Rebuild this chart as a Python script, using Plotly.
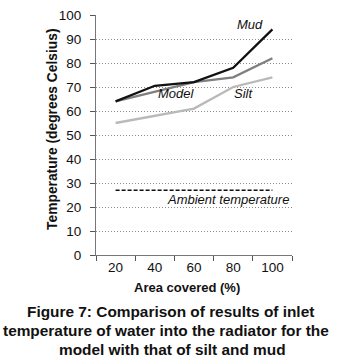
import plotly.graph_objects as go

area = ["20", "40", "60", "80", "100"]
mud = [64, 70.5, 72, 78, 94]
model = [64, 68, 72, 74, 82]
silt = [55, 58, 61, 70, 74]
ambient = [27, 27, 27, 27, 27]
y_ticks = [0, 10, 20, 30, 40, 50, 60, 70, 80, 90, 100]

FONT = "Liberation Sans, Arial, sans-serif"

fig = go.Figure()
fig.add_trace(go.Scatter(x=area, y=ambient, mode="lines",
                         line=dict(color="#111111", width=1.5, dash="4px,2px")))
fig.add_trace(go.Scatter(x=area, y=silt, mode="lines",
                         line=dict(color="#b9b9b9", width=2.3)))
fig.add_trace(go.Scatter(x=area, y=model, mode="lines",
                         line=dict(color="#7f7f7f", width=2.3)))
fig.add_trace(go.Scatter(x=area, y=mud, mode="lines",
                         line=dict(color="#111111", width=2.3)))

lab_font = dict(family=FONT, size=13, color="#111111", style="italic")
fig.add_annotation(x=3.43, y=96.0, text="Mud", showarrow=False, font=lab_font)
fig.add_annotation(x=1.56, y=67.3, text="Model", showarrow=False, font=lab_font)
fig.add_annotation(x=3.25, y=67.5, text="Silt", showarrow=False, font=lab_font)
fig.add_annotation(x=2.86, y=23.3, text="Ambient temperature", showarrow=False, font=lab_font)

cap_font = dict(family=FONT, size=15.4, color="#111111", weight="bold")
caption = ["Figure 7: Comparison of results of inlet",
           "temperature of water into the radiator for the",
           "model with that of silt and mud"]
cap_x = [170, 166, 172]
for i, line in enumerate(caption):
    fig.add_annotation(xref="paper", yref="paper", x=(cap_x[i] - 96) / 196,
                       y=-(312.5 + 19.3 * i - 254.5) / 246.5,
                       text=line, showarrow=False, font=cap_font, xanchor="center", yanchor="middle")

fig.add_annotation(xref="paper", yref="paper", x=(186.5 - 96) / 196, y=-(287.5 - 254.5) / 246.5,
                   text="Area covered (%)", showarrow=False,
                   font=dict(family=FONT, size=13, color="#111111", weight="bold"),
                   xanchor="center", yanchor="middle")
fig.add_annotation(xref="paper", yref="paper", x=-(96 - 53) / 196, y=(254.5 - 126) / 246.5,
                   text="Temperature (degrees Celsius)", showarrow=False, textangle=-90,
                   font=dict(family=FONT, size=13.8, color="#111111", weight="bold"),
                   xanchor="center", yanchor="middle")

fig.update_layout(
    width=340, height=360,
    margin=dict(l=96, r=48, t=8, b=105),
    paper_bgcolor="white", plot_bgcolor="white",
    showlegend=False,
    font=dict(family=FONT, size=13, color="#111111"),
)
fig.update_xaxes(type="category", tickson="boundaries", ticks="outside", ticklen=5,
                 tickcolor="#555555", showline=True, linecolor="#777777", linewidth=1,
                 showgrid=False, tickfont=dict(size=13.5), range=[-0.5, 4.5])
fig.update_yaxes(range=[0, 100], tickvals=y_ticks, ticks="outside", ticklen=5,
                 tickcolor="#555555", showline=True, linecolor="#777777", linewidth=1,
                 showgrid=True, gridcolor="#8a8a8a", griddash="1px,2px", gridwidth=1,
                 zeroline=False, tickfont=dict(size=13.5), ticklabelstandoff=6)

fig.write_html("out.html", config={"displayModeBar": False},
               post_script="document.body.style.margin='0';document.body.style.overflow='hidden';")
